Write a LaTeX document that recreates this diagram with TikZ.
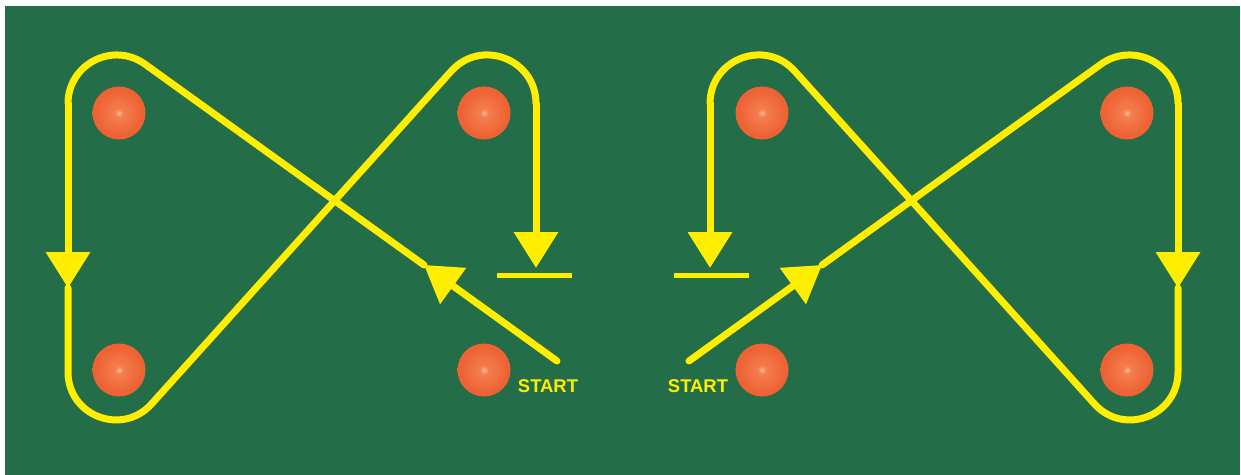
\documentclass[tikz,border=0pt]{standalone}
\usepackage{fontspec}
\setmainfont{Liberation Sans}
\usetikzlibrary{arrows.meta}
\definecolor{felt}{RGB}{35,109,72}
\definecolor{chalk}{RGB}{255,238,0}
\definecolor{ballhi}{RGB}{250,185,150}
\definecolor{ballmid}{RGB}{244,125,78}
\definecolor{ballrim}{RGB}{238,98,52}
\definecolor{ballout}{RGB}{200,74,36}
\pgfdeclareradialshading{ballshade}{\pgfpoint{0bp}{0bp}}{color(0bp)=(ballhi); color(4bp)=(ballmid); color(22bp)=(ballrim); color(42bp)=(ballrim); color(50bp)=(ballout)}

\begin{document}
\begin{tikzpicture}[x=0.02cm, y=-0.02cm,
	track/.style={chalk, line width=0.14cm, line cap=round},
	tip/.style={-{Triangle[width=0.86cm,length=0.72cm]}},
	stopbar/.style={chalk, line width=0.1cm},
	cone/.style={circle, minimum size=1.06cm, inner sep=0pt, shading=ballshade},
	starttext/.style={text=chalk, font=\fontsize{10.5}{12}\selectfont\bfseries, inner sep=0pt}]
	\useasboundingbox (0,0) rectangle (1241,475);
	\fill[white] (0,0) rectangle (1241,475);
	\fill[felt] (5,6) rectangle (1240,475);
	
	\foreach \s/\sx/\sc in {L/0/1, R/1246/-1} {
		\begin{scope}[shift={(\sx,0)}, xscale=\sc]
			\foreach \bx/\by [count=\i] in {119/113, 484/113, 119/370, 484/370}
				\node[cone] (ball\s\i) at (\bx,\by) {};
			\node[starttext] (start\s) at (548,386) {START};
			
			\coordinate (go\s) at (557,361);
			\coordinate (hit\s) at (424,265);
			\coordinate (tl\s) at (145,64.2);
			\coordinate (ml\s) at (68,103.6);
			\coordinate (down\s) at (68,288);
			\coordinate (bl\s) at (68,372);
			\coordinate (br\s) at (151.5,404);
			\coordinate (tr\s) at (451.3,71.1);
			\coordinate (mr\s) at (536,103.6);
			\coordinate (stop\s) at (536,268);
			\coordinate (barA\s) at (497,276);
			\coordinate (barB\s) at (572,276);
			
			\draw[track, tip] (go\s) -- (hit\s);
			\draw[track] (hit\s) -- (tl\s) .. controls (112.9,41.1) and (68,64) .. (ml\s);
			\draw[track, tip] (ml\s) -- (down\s);
			\draw[track] (down\s) -- (bl\s) .. controls (68,415.9) and (122.1,436.6) .. (br\s) -- (tr\s) .. controls (481.1,38) and (536,59.1) .. (mr\s);
			\draw[track, tip] (mr\s) -- (stop\s);
			\draw[stopbar] (barA\s) -- (barB\s);
		\end{scope}
	}
\end{tikzpicture}
\end{document}
